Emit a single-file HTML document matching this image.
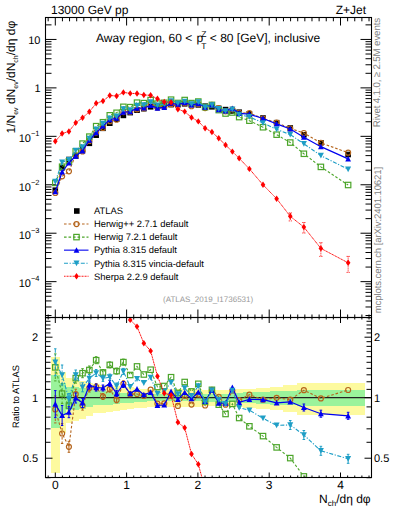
<!DOCTYPE html><html><head><meta charset="utf-8"><style>html,body{margin:0;padding:0;background:#fff;overflow:hidden}svg{display:block}</style></head><body><svg width="393" height="512" viewBox="0 0 393 512" font-family="Liberation Sans, sans-serif" text-rendering="geometricPrecision"><defs><clipPath id="cu"><rect x="45.5" y="17.5" width="326.0" height="300.0"/></clipPath><clipPath id="cr"><rect x="45.5" y="317.5" width="326.0" height="160.0"/></clipPath></defs><g clip-path="url(#cr)" fill="#fdfa9f" shape-rendering="crispEdges"><rect x="51.10" y="357.22" width="8.80" height="115.38"/><rect x="59.90" y="371.83" width="5.62" height="60.83"/><rect x="65.52" y="378.22" width="6.81" height="44.59"/><rect x="72.32" y="379.06" width="6.81" height="42.36"/><rect x="79.13" y="380.70" width="6.81" height="38.13"/><rect x="85.94" y="382.74" width="6.81" height="33.04"/><rect x="92.75" y="384.37" width="6.81" height="29.07"/><rect x="99.56" y="384.74" width="6.81" height="28.18"/><rect x="106.38" y="385.12" width="6.81" height="27.28"/><rect x="113.19" y="385.88" width="6.81" height="25.49"/><rect x="119.99" y="386.65" width="6.81" height="23.71"/><rect x="126.80" y="387.42" width="6.81" height="21.94"/><rect x="133.62" y="388.20" width="6.81" height="20.17"/><rect x="140.43" y="388.59" width="6.81" height="19.28"/><rect x="147.23" y="388.98" width="6.81" height="18.40"/><rect x="154.04" y="388.98" width="6.81" height="18.40"/><rect x="160.85" y="388.98" width="6.81" height="18.40"/><rect x="167.66" y="388.98" width="6.81" height="18.40"/><rect x="174.47" y="388.98" width="6.81" height="18.40"/><rect x="181.28" y="388.98" width="6.81" height="18.40"/><rect x="188.09" y="388.98" width="6.81" height="18.40"/><rect x="194.90" y="388.98" width="6.81" height="18.40"/><rect x="201.71" y="390.18" width="6.81" height="15.76"/><rect x="208.52" y="390.18" width="6.81" height="15.76"/><rect x="215.33" y="390.18" width="6.81" height="15.76"/><rect x="222.14" y="390.18" width="6.81" height="15.76"/><rect x="228.95" y="390.18" width="6.81" height="15.76"/><rect x="235.76" y="389.38" width="6.81" height="17.52"/><rect x="242.57" y="388.75" width="13.62" height="18.93"/><rect x="256.19" y="387.81" width="13.62" height="21.05"/><rect x="269.81" y="387.03" width="13.62" height="22.83"/><rect x="283.44" y="385.35" width="13.62" height="26.74"/><rect x="297.06" y="383.40" width="13.62" height="31.41"/><rect x="310.67" y="383.40" width="20.43" height="31.41"/><rect x="331.11" y="383.40" width="34.05" height="31.41"/></g><g clip-path="url(#cr)" fill="#9af39b" shape-rendering="crispEdges"><rect x="51.10" y="375.47" width="8.80" height="52.13"/><rect x="59.90" y="383.25" width="5.62" height="31.77"/><rect x="65.52" y="387.03" width="6.81" height="22.83"/><rect x="72.32" y="387.03" width="6.81" height="22.83"/><rect x="79.13" y="387.81" width="6.81" height="21.05"/><rect x="85.94" y="389.38" width="6.81" height="17.52"/><rect x="92.75" y="390.58" width="6.81" height="14.88"/><rect x="99.56" y="390.98" width="6.81" height="14.00"/><rect x="106.38" y="391.39" width="6.81" height="13.12"/><rect x="113.19" y="391.79" width="6.81" height="12.24"/><rect x="119.99" y="392.61" width="6.81" height="10.49"/><rect x="126.80" y="393.03" width="6.81" height="9.61"/><rect x="133.62" y="393.44" width="6.81" height="8.74"/><rect x="140.43" y="393.44" width="6.81" height="8.74"/><rect x="147.23" y="394.11" width="6.81" height="7.34"/><rect x="154.04" y="394.11" width="6.81" height="7.34"/><rect x="160.85" y="394.11" width="6.81" height="7.34"/><rect x="167.66" y="394.11" width="6.81" height="7.34"/><rect x="174.47" y="394.11" width="6.81" height="7.34"/><rect x="181.28" y="394.11" width="6.81" height="7.34"/><rect x="188.09" y="394.11" width="6.81" height="7.34"/><rect x="194.90" y="394.11" width="6.81" height="7.34"/><rect x="201.71" y="393.86" width="6.81" height="7.86"/><rect x="208.52" y="393.86" width="6.81" height="7.86"/><rect x="215.33" y="393.86" width="6.81" height="7.86"/><rect x="222.14" y="393.86" width="6.81" height="7.86"/><rect x="228.95" y="393.86" width="6.81" height="7.86"/><rect x="235.76" y="393.03" width="6.81" height="9.61"/><rect x="242.57" y="392.45" width="13.62" height="10.84"/><rect x="256.19" y="392.12" width="13.62" height="11.54"/><rect x="269.81" y="391.39" width="13.62" height="13.12"/><rect x="283.44" y="390.66" width="13.62" height="14.70"/><rect x="297.06" y="390.34" width="13.62" height="15.40"/><rect x="310.67" y="390.34" width="20.43" height="15.40"/><rect x="331.11" y="390.34" width="34.05" height="15.40"/></g><path d="M45.5,397.70H371.5" stroke="#222" stroke-width="1.3"/><path d="M45.5,315.51h6 M371.5,315.51h-6 M45.5,306.98h6 M371.5,306.98h-6 M45.5,300.93h6 M371.5,300.93h-6 M45.5,296.23h6 M371.5,296.23h-6 M45.5,292.40h6 M371.5,292.40h-6 M45.5,289.15h6 M371.5,289.15h-6 M45.5,286.34h6 M371.5,286.34h-6 M45.5,283.87h6 M371.5,283.87h-6 M45.5,281.65h11 M371.5,281.65h-11 M45.5,267.07h6 M371.5,267.07h-6 M45.5,258.54h6 M371.5,258.54h-6 M45.5,252.49h6 M371.5,252.49h-6 M45.5,247.79h6 M371.5,247.79h-6 M45.5,243.96h6 M371.5,243.96h-6 M45.5,240.71h6 M371.5,240.71h-6 M45.5,237.90h6 M371.5,237.90h-6 M45.5,235.43h6 M371.5,235.43h-6 M45.5,233.21h11 M371.5,233.21h-11 M45.5,218.63h6 M371.5,218.63h-6 M45.5,210.10h6 M371.5,210.10h-6 M45.5,204.05h6 M371.5,204.05h-6 M45.5,199.35h6 M371.5,199.35h-6 M45.5,195.52h6 M371.5,195.52h-6 M45.5,192.27h6 M371.5,192.27h-6 M45.5,189.46h6 M371.5,189.46h-6 M45.5,186.99h6 M371.5,186.99h-6 M45.5,184.77h11 M371.5,184.77h-11 M45.5,170.19h6 M371.5,170.19h-6 M45.5,161.66h6 M371.5,161.66h-6 M45.5,155.61h6 M371.5,155.61h-6 M45.5,150.91h6 M371.5,150.91h-6 M45.5,147.08h6 M371.5,147.08h-6 M45.5,143.83h6 M371.5,143.83h-6 M45.5,141.02h6 M371.5,141.02h-6 M45.5,138.55h6 M371.5,138.55h-6 M45.5,136.33h11 M371.5,136.33h-11 M45.5,121.75h6 M371.5,121.75h-6 M45.5,113.22h6 M371.5,113.22h-6 M45.5,107.17h6 M371.5,107.17h-6 M45.5,102.47h6 M371.5,102.47h-6 M45.5,98.64h6 M371.5,98.64h-6 M45.5,95.39h6 M371.5,95.39h-6 M45.5,92.58h6 M371.5,92.58h-6 M45.5,90.11h6 M371.5,90.11h-6 M45.5,87.89h11 M371.5,87.89h-11 M45.5,73.31h6 M371.5,73.31h-6 M45.5,64.78h6 M371.5,64.78h-6 M45.5,58.73h6 M371.5,58.73h-6 M45.5,54.03h6 M371.5,54.03h-6 M45.5,50.20h6 M371.5,50.20h-6 M45.5,46.95h6 M371.5,46.95h-6 M45.5,44.14h6 M371.5,44.14h-6 M45.5,41.67h6 M371.5,41.67h-6 M45.5,39.45h11 M371.5,39.45h-11 M45.5,24.87h6 M371.5,24.87h-6 M48.17,17.5v3.8 M48.17,317.5v-3 M48.17,317.5v2 M48.17,477.5v-2 M55.30,17.5v8 M55.30,317.5v-8 M55.30,317.5v5.5 M55.30,477.5v-5 M62.43,17.5v3.8 M62.43,317.5v-3 M62.43,317.5v2 M62.43,477.5v-2 M69.56,17.5v3.8 M69.56,317.5v-3 M69.56,317.5v2 M69.56,477.5v-2 M76.69,17.5v3.8 M76.69,317.5v-3 M76.69,317.5v2 M76.69,477.5v-2 M83.82,17.5v3.8 M83.82,317.5v-3 M83.82,317.5v2 M83.82,477.5v-2 M90.95,17.5v3.8 M90.95,317.5v-3 M90.95,317.5v2 M90.95,477.5v-2 M98.08,17.5v3.8 M98.08,317.5v-3 M98.08,317.5v2 M98.08,477.5v-2 M105.21,17.5v3.8 M105.21,317.5v-3 M105.21,317.5v2 M105.21,477.5v-2 M112.34,17.5v3.8 M112.34,317.5v-3 M112.34,317.5v2 M112.34,477.5v-2 M119.47,17.5v3.8 M119.47,317.5v-3 M119.47,317.5v2 M119.47,477.5v-2 M126.60,17.5v8 M126.60,317.5v-8 M126.60,317.5v5.5 M126.60,477.5v-5 M133.73,17.5v3.8 M133.73,317.5v-3 M133.73,317.5v2 M133.73,477.5v-2 M140.86,17.5v3.8 M140.86,317.5v-3 M140.86,317.5v2 M140.86,477.5v-2 M147.99,17.5v3.8 M147.99,317.5v-3 M147.99,317.5v2 M147.99,477.5v-2 M155.12,17.5v3.8 M155.12,317.5v-3 M155.12,317.5v2 M155.12,477.5v-2 M162.25,17.5v3.8 M162.25,317.5v-3 M162.25,317.5v2 M162.25,477.5v-2 M169.38,17.5v3.8 M169.38,317.5v-3 M169.38,317.5v2 M169.38,477.5v-2 M176.51,17.5v3.8 M176.51,317.5v-3 M176.51,317.5v2 M176.51,477.5v-2 M183.64,17.5v3.8 M183.64,317.5v-3 M183.64,317.5v2 M183.64,477.5v-2 M190.77,17.5v3.8 M190.77,317.5v-3 M190.77,317.5v2 M190.77,477.5v-2 M197.90,17.5v8 M197.90,317.5v-8 M197.90,317.5v5.5 M197.90,477.5v-5 M205.03,17.5v3.8 M205.03,317.5v-3 M205.03,317.5v2 M205.03,477.5v-2 M212.16,17.5v3.8 M212.16,317.5v-3 M212.16,317.5v2 M212.16,477.5v-2 M219.29,17.5v3.8 M219.29,317.5v-3 M219.29,317.5v2 M219.29,477.5v-2 M226.42,17.5v3.8 M226.42,317.5v-3 M226.42,317.5v2 M226.42,477.5v-2 M233.55,17.5v3.8 M233.55,317.5v-3 M233.55,317.5v2 M233.55,477.5v-2 M240.68,17.5v3.8 M240.68,317.5v-3 M240.68,317.5v2 M240.68,477.5v-2 M247.81,17.5v3.8 M247.81,317.5v-3 M247.81,317.5v2 M247.81,477.5v-2 M254.94,17.5v3.8 M254.94,317.5v-3 M254.94,317.5v2 M254.94,477.5v-2 M262.07,17.5v3.8 M262.07,317.5v-3 M262.07,317.5v2 M262.07,477.5v-2 M269.20,17.5v8 M269.20,317.5v-8 M269.20,317.5v5.5 M269.20,477.5v-5 M276.33,17.5v3.8 M276.33,317.5v-3 M276.33,317.5v2 M276.33,477.5v-2 M283.46,17.5v3.8 M283.46,317.5v-3 M283.46,317.5v2 M283.46,477.5v-2 M290.59,17.5v3.8 M290.59,317.5v-3 M290.59,317.5v2 M290.59,477.5v-2 M297.72,17.5v3.8 M297.72,317.5v-3 M297.72,317.5v2 M297.72,477.5v-2 M304.85,17.5v3.8 M304.85,317.5v-3 M304.85,317.5v2 M304.85,477.5v-2 M311.98,17.5v3.8 M311.98,317.5v-3 M311.98,317.5v2 M311.98,477.5v-2 M319.11,17.5v3.8 M319.11,317.5v-3 M319.11,317.5v2 M319.11,477.5v-2 M326.24,17.5v3.8 M326.24,317.5v-3 M326.24,317.5v2 M326.24,477.5v-2 M333.37,17.5v3.8 M333.37,317.5v-3 M333.37,317.5v2 M333.37,477.5v-2 M340.50,17.5v8 M340.50,317.5v-8 M340.50,317.5v5.5 M340.50,477.5v-5 M347.63,17.5v3.8 M347.63,317.5v-3 M347.63,317.5v2 M347.63,477.5v-2 M354.76,17.5v3.8 M354.76,317.5v-3 M354.76,317.5v2 M354.76,477.5v-2 M361.89,17.5v3.8 M361.89,317.5v-3 M361.89,317.5v2 M361.89,477.5v-2 M369.02,17.5v3.8 M369.02,317.5v-3 M369.02,317.5v2 M369.02,477.5v-2 M45.5,477.69h5 M371.5,477.69h-5 M45.5,458.21h7 M371.5,458.21h-7 M45.5,442.29h5 M371.5,442.29h-5 M45.5,428.84h5 M371.5,428.84h-5 M45.5,417.18h5 M371.5,417.18h-5 M45.5,406.90h5 M371.5,406.90h-5 M45.5,397.70h7 M371.5,397.70h-7 M45.5,389.38h5 M371.5,389.38h-5 M45.5,381.78h5 M371.5,381.78h-5 M45.5,374.80h5 M371.5,374.80h-5 M45.5,368.33h5 M371.5,368.33h-5 M45.5,362.31h5 M371.5,362.31h-5 M45.5,356.67h5 M371.5,356.67h-5 M45.5,351.38h5 M371.5,351.38h-5 M45.5,346.39h5 M371.5,346.39h-5 M45.5,341.67h5 M371.5,341.67h-5 M45.5,337.19h7 M371.5,337.19h-7 M45.5,332.93h5 M371.5,332.93h-5 M45.5,328.87h5 M371.5,328.87h-5 M45.5,324.99h5 M371.5,324.99h-5 M45.5,321.28h5 M371.5,321.28h-5 M45.5,317.71h5 M371.5,317.71h-5" stroke="#000" stroke-width="1" fill="none"/><g clip-path="url(#cu)"><g><rect x="52.50" y="187.40" width="5.6" height="5.6" fill="#000"/><rect x="59.31" y="164.90" width="5.6" height="5.6" fill="#000"/><rect x="66.12" y="156.70" width="5.6" height="5.6" fill="#000"/><rect x="72.93" y="153.20" width="5.6" height="5.6" fill="#000"/><rect x="79.74" y="146.70" width="5.6" height="5.6" fill="#000"/><rect x="86.55" y="140.50" width="5.6" height="5.6" fill="#000"/><rect x="93.36" y="132.40" width="5.6" height="5.6" fill="#000"/><rect x="100.17" y="125.50" width="5.6" height="5.6" fill="#000"/><rect x="106.98" y="120.40" width="5.6" height="5.6" fill="#000"/><rect x="113.79" y="116.40" width="5.6" height="5.6" fill="#000"/><rect x="120.60" y="112.60" width="5.6" height="5.6" fill="#000"/><rect x="127.41" y="109.80" width="5.6" height="5.6" fill="#000"/><rect x="134.22" y="107.40" width="5.6" height="5.6" fill="#000"/><rect x="141.03" y="105.90" width="5.6" height="5.6" fill="#000"/><rect x="147.84" y="104.00" width="5.6" height="5.6" fill="#000"/><rect x="154.65" y="103.40" width="5.6" height="5.6" fill="#000"/><rect x="161.46" y="102.80" width="5.6" height="5.6" fill="#000"/><rect x="168.27" y="101.80" width="5.6" height="5.6" fill="#000"/><rect x="175.08" y="101.30" width="5.6" height="5.6" fill="#000"/><rect x="181.89" y="101.00" width="5.6" height="5.6" fill="#000"/><rect x="188.70" y="101.80" width="5.6" height="5.6" fill="#000"/><rect x="195.51" y="102.10" width="5.6" height="5.6" fill="#000"/><rect x="202.32" y="103.40" width="5.6" height="5.6" fill="#000"/><rect x="209.13" y="104.00" width="5.6" height="5.6" fill="#000"/><rect x="215.94" y="105.60" width="5.6" height="5.6" fill="#000"/><rect x="222.75" y="106.80" width="5.6" height="5.6" fill="#000"/><rect x="229.56" y="108.20" width="5.6" height="5.6" fill="#000"/><rect x="236.37" y="109.40" width="5.6" height="5.6" fill="#000"/><rect x="246.58" y="111.00" width="5.6" height="5.6" fill="#000"/><rect x="260.20" y="115.20" width="5.6" height="5.6" fill="#000"/><rect x="273.82" y="119.90" width="5.6" height="5.6" fill="#000"/><rect x="287.44" y="125.20" width="5.6" height="5.6" fill="#000"/><rect x="301.06" y="132.00" width="5.6" height="5.6" fill="#000"/><rect x="318.09" y="140.00" width="5.6" height="5.6" fill="#000"/><rect x="345.33" y="151.70" width="5.6" height="5.6" fill="#000"/></g><path d="M55.30,193.02 L62.11,176.33 L68.92,171.33 L75.73,155.16 L82.54,151.40 L89.35,140.96 L96.16,132.62 L102.97,128.01 L109.78,121.13 L116.59,119.73 L123.40,112.05 L130.21,111.76 L137.02,109.31 L143.83,108.29 L150.64,104.87 L157.45,107.65 L164.26,106.97 L171.07,104.19 L177.88,106.08 L184.69,103.34 L191.50,106.26 L198.31,104.13 L205.12,108.08 L211.93,104.90 L218.74,108.21 L225.55,111.29 L232.36,109.29 L239.17,112.75 L249.38,113.08 L263.00,118.48 L276.62,122.72 L290.25,128.48 L303.87,132.99 L320.89,142.97 L348.13,152.64" fill="none" stroke="#b5651d" stroke-width="1.1" stroke-dasharray="2.6 1.9"/><g><circle cx="55.30" cy="193.02" r="2.5" fill="none" stroke="#b5651d" stroke-width="1.2"/><circle cx="62.11" cy="176.33" r="2.5" fill="none" stroke="#b5651d" stroke-width="1.2"/><circle cx="68.92" cy="171.33" r="2.5" fill="none" stroke="#b5651d" stroke-width="1.2"/><circle cx="75.73" cy="155.16" r="2.5" fill="none" stroke="#b5651d" stroke-width="1.2"/><circle cx="82.54" cy="151.40" r="2.5" fill="none" stroke="#b5651d" stroke-width="1.2"/><circle cx="89.35" cy="140.96" r="2.5" fill="none" stroke="#b5651d" stroke-width="1.2"/><circle cx="96.16" cy="132.62" r="2.5" fill="none" stroke="#b5651d" stroke-width="1.2"/><circle cx="102.97" cy="128.01" r="2.5" fill="none" stroke="#b5651d" stroke-width="1.2"/><circle cx="109.78" cy="121.13" r="2.5" fill="none" stroke="#b5651d" stroke-width="1.2"/><circle cx="116.59" cy="119.73" r="2.5" fill="none" stroke="#b5651d" stroke-width="1.2"/><circle cx="123.40" cy="112.05" r="2.5" fill="none" stroke="#b5651d" stroke-width="1.2"/><circle cx="130.21" cy="111.76" r="2.5" fill="none" stroke="#b5651d" stroke-width="1.2"/><circle cx="137.02" cy="109.31" r="2.5" fill="none" stroke="#b5651d" stroke-width="1.2"/><circle cx="143.83" cy="108.29" r="2.5" fill="none" stroke="#b5651d" stroke-width="1.2"/><circle cx="150.64" cy="104.87" r="2.5" fill="none" stroke="#b5651d" stroke-width="1.2"/><circle cx="157.45" cy="107.65" r="2.5" fill="none" stroke="#b5651d" stroke-width="1.2"/><circle cx="164.26" cy="106.97" r="2.5" fill="none" stroke="#b5651d" stroke-width="1.2"/><circle cx="171.07" cy="104.19" r="2.5" fill="none" stroke="#b5651d" stroke-width="1.2"/><circle cx="177.88" cy="106.08" r="2.5" fill="none" stroke="#b5651d" stroke-width="1.2"/><circle cx="184.69" cy="103.34" r="2.5" fill="none" stroke="#b5651d" stroke-width="1.2"/><circle cx="191.50" cy="106.26" r="2.5" fill="none" stroke="#b5651d" stroke-width="1.2"/><circle cx="198.31" cy="104.13" r="2.5" fill="none" stroke="#b5651d" stroke-width="1.2"/><circle cx="205.12" cy="108.08" r="2.5" fill="none" stroke="#b5651d" stroke-width="1.2"/><circle cx="211.93" cy="104.90" r="2.5" fill="none" stroke="#b5651d" stroke-width="1.2"/><circle cx="218.74" cy="108.21" r="2.5" fill="none" stroke="#b5651d" stroke-width="1.2"/><circle cx="225.55" cy="111.29" r="2.5" fill="none" stroke="#b5651d" stroke-width="1.2"/><circle cx="232.36" cy="109.29" r="2.5" fill="none" stroke="#b5651d" stroke-width="1.2"/><circle cx="239.17" cy="112.75" r="2.5" fill="none" stroke="#b5651d" stroke-width="1.2"/><circle cx="249.38" cy="113.08" r="2.5" fill="none" stroke="#b5651d" stroke-width="1.2"/><circle cx="263.00" cy="118.48" r="2.5" fill="none" stroke="#b5651d" stroke-width="1.2"/><circle cx="276.62" cy="122.72" r="2.5" fill="none" stroke="#b5651d" stroke-width="1.2"/><circle cx="290.25" cy="128.48" r="2.5" fill="none" stroke="#b5651d" stroke-width="1.2"/><circle cx="303.87" cy="132.99" r="2.5" fill="none" stroke="#b5651d" stroke-width="1.2"/><circle cx="320.89" cy="142.97" r="2.5" fill="none" stroke="#b5651d" stroke-width="1.2"/><circle cx="348.13" cy="152.64" r="2.5" fill="none" stroke="#b5651d" stroke-width="1.2"/></g><path d="M55.30,182.90 L62.11,166.71 L68.92,161.40 L75.73,151.28 L82.54,143.60 L89.35,136.62 L96.16,126.16 L102.97,122.23 L109.78,115.30 L116.59,112.79 L123.40,106.82 L130.21,107.13 L137.02,102.66 L143.83,103.11 L150.64,100.05 L157.45,103.62 L164.26,102.78 L171.07,99.66 L177.88,102.97 L184.69,100.02 L191.50,103.08 L198.31,101.55 L205.12,107.14 L211.93,104.90 L218.74,110.09 L225.55,113.53 L232.36,112.49 L239.17,117.09 L249.38,120.69 L263.00,127.25 L276.62,134.68 L290.25,142.56 L303.87,153.77 L320.89,166.90 L348.13,185.00" fill="none" stroke="#4ca52a" stroke-width="1.1" stroke-dasharray="2.6 1.9"/><g><rect x="52.60" y="180.20" width="5.4" height="5.4" fill="none" stroke="#4ca52a" stroke-width="1.2"/><rect x="59.41" y="164.01" width="5.4" height="5.4" fill="none" stroke="#4ca52a" stroke-width="1.2"/><rect x="66.22" y="158.70" width="5.4" height="5.4" fill="none" stroke="#4ca52a" stroke-width="1.2"/><rect x="73.03" y="148.58" width="5.4" height="5.4" fill="none" stroke="#4ca52a" stroke-width="1.2"/><rect x="79.84" y="140.90" width="5.4" height="5.4" fill="none" stroke="#4ca52a" stroke-width="1.2"/><rect x="86.65" y="133.92" width="5.4" height="5.4" fill="none" stroke="#4ca52a" stroke-width="1.2"/><rect x="93.46" y="123.46" width="5.4" height="5.4" fill="none" stroke="#4ca52a" stroke-width="1.2"/><rect x="100.27" y="119.53" width="5.4" height="5.4" fill="none" stroke="#4ca52a" stroke-width="1.2"/><rect x="107.08" y="112.60" width="5.4" height="5.4" fill="none" stroke="#4ca52a" stroke-width="1.2"/><rect x="113.89" y="110.09" width="5.4" height="5.4" fill="none" stroke="#4ca52a" stroke-width="1.2"/><rect x="120.70" y="104.12" width="5.4" height="5.4" fill="none" stroke="#4ca52a" stroke-width="1.2"/><rect x="127.51" y="104.43" width="5.4" height="5.4" fill="none" stroke="#4ca52a" stroke-width="1.2"/><rect x="134.32" y="99.96" width="5.4" height="5.4" fill="none" stroke="#4ca52a" stroke-width="1.2"/><rect x="141.13" y="100.41" width="5.4" height="5.4" fill="none" stroke="#4ca52a" stroke-width="1.2"/><rect x="147.94" y="97.35" width="5.4" height="5.4" fill="none" stroke="#4ca52a" stroke-width="1.2"/><rect x="154.75" y="100.92" width="5.4" height="5.4" fill="none" stroke="#4ca52a" stroke-width="1.2"/><rect x="161.56" y="100.08" width="5.4" height="5.4" fill="none" stroke="#4ca52a" stroke-width="1.2"/><rect x="168.37" y="96.96" width="5.4" height="5.4" fill="none" stroke="#4ca52a" stroke-width="1.2"/><rect x="175.18" y="100.27" width="5.4" height="5.4" fill="none" stroke="#4ca52a" stroke-width="1.2"/><rect x="181.99" y="97.32" width="5.4" height="5.4" fill="none" stroke="#4ca52a" stroke-width="1.2"/><rect x="188.80" y="100.38" width="5.4" height="5.4" fill="none" stroke="#4ca52a" stroke-width="1.2"/><rect x="195.61" y="98.85" width="5.4" height="5.4" fill="none" stroke="#4ca52a" stroke-width="1.2"/><rect x="202.42" y="104.44" width="5.4" height="5.4" fill="none" stroke="#4ca52a" stroke-width="1.2"/><rect x="209.23" y="102.20" width="5.4" height="5.4" fill="none" stroke="#4ca52a" stroke-width="1.2"/><rect x="216.04" y="107.39" width="5.4" height="5.4" fill="none" stroke="#4ca52a" stroke-width="1.2"/><rect x="222.85" y="110.83" width="5.4" height="5.4" fill="none" stroke="#4ca52a" stroke-width="1.2"/><rect x="229.66" y="109.79" width="5.4" height="5.4" fill="none" stroke="#4ca52a" stroke-width="1.2"/><rect x="236.47" y="114.39" width="5.4" height="5.4" fill="none" stroke="#4ca52a" stroke-width="1.2"/><rect x="246.69" y="117.99" width="5.4" height="5.4" fill="none" stroke="#4ca52a" stroke-width="1.2"/><rect x="260.31" y="124.55" width="5.4" height="5.4" fill="none" stroke="#4ca52a" stroke-width="1.2"/><rect x="273.93" y="131.98" width="5.4" height="5.4" fill="none" stroke="#4ca52a" stroke-width="1.2"/><rect x="287.55" y="139.86" width="5.4" height="5.4" fill="none" stroke="#4ca52a" stroke-width="1.2"/><rect x="301.17" y="151.07" width="5.4" height="5.4" fill="none" stroke="#4ca52a" stroke-width="1.2"/><rect x="318.19" y="164.20" width="5.4" height="5.4" fill="none" stroke="#4ca52a" stroke-width="1.2"/><rect x="345.43" y="182.30" width="5.4" height="5.4" fill="none" stroke="#4ca52a" stroke-width="1.2"/></g><path d="M55.30,191.74 L62.11,171.99 L68.92,162.99 L75.73,156.07 L82.54,150.78 L89.35,140.24 L96.16,132.77 L102.97,125.96 L109.78,119.75 L116.59,118.21 L123.40,112.22 L130.21,111.61 L137.02,108.13 L143.83,107.98 L150.64,105.50 L157.45,108.06 L164.26,107.36 L171.07,103.11 L177.88,104.51 L184.69,102.55 L191.50,104.82 L198.31,103.57 L205.12,107.07 L211.93,105.02 L218.74,109.70 L225.55,110.90 L232.36,108.54 L239.17,113.31 L249.38,114.19 L263.00,118.48 L276.62,123.93 L290.25,128.99 L303.87,137.16 L320.89,146.66 L348.13,158.86" fill="none" stroke="#0000f0" stroke-width="1.2"/><g><path d="M52.40,194.34L55.30,188.74L58.20,194.34Z" fill="#0000f0"/><path d="M59.21,174.59L62.11,168.99L65.01,174.59Z" fill="#0000f0"/><path d="M66.02,165.59L68.92,159.99L71.82,165.59Z" fill="#0000f0"/><path d="M72.83,158.67L75.73,153.07L78.63,158.67Z" fill="#0000f0"/><path d="M79.64,153.38L82.54,147.78L85.44,153.38Z" fill="#0000f0"/><path d="M86.45,142.84L89.35,137.24L92.25,142.84Z" fill="#0000f0"/><path d="M93.26,135.37L96.16,129.77L99.06,135.37Z" fill="#0000f0"/><path d="M100.07,128.56L102.97,122.96L105.87,128.56Z" fill="#0000f0"/><path d="M106.88,122.35L109.78,116.75L112.68,122.35Z" fill="#0000f0"/><path d="M113.69,120.81L116.59,115.21L119.49,120.81Z" fill="#0000f0"/><path d="M120.50,114.82L123.40,109.22L126.30,114.82Z" fill="#0000f0"/><path d="M127.31,114.21L130.21,108.61L133.11,114.21Z" fill="#0000f0"/><path d="M134.12,110.73L137.02,105.13L139.92,110.73Z" fill="#0000f0"/><path d="M140.93,110.58L143.83,104.98L146.73,110.58Z" fill="#0000f0"/><path d="M147.74,108.10L150.64,102.50L153.54,108.10Z" fill="#0000f0"/><path d="M154.55,110.66L157.45,105.06L160.35,110.66Z" fill="#0000f0"/><path d="M161.36,109.96L164.26,104.36L167.16,109.96Z" fill="#0000f0"/><path d="M168.17,105.71L171.07,100.11L173.97,105.71Z" fill="#0000f0"/><path d="M174.98,107.11L177.88,101.51L180.78,107.11Z" fill="#0000f0"/><path d="M181.79,105.15L184.69,99.55L187.59,105.15Z" fill="#0000f0"/><path d="M188.60,107.42L191.50,101.82L194.40,107.42Z" fill="#0000f0"/><path d="M195.41,106.17L198.31,100.57L201.21,106.17Z" fill="#0000f0"/><path d="M202.22,109.67L205.12,104.07L208.02,109.67Z" fill="#0000f0"/><path d="M209.03,107.62L211.93,102.02L214.83,107.62Z" fill="#0000f0"/><path d="M215.84,112.30L218.74,106.70L221.64,112.30Z" fill="#0000f0"/><path d="M222.65,113.50L225.55,107.90L228.45,113.50Z" fill="#0000f0"/><path d="M229.46,111.14L232.36,105.54L235.26,111.14Z" fill="#0000f0"/><path d="M236.27,115.91L239.17,110.31L242.07,115.91Z" fill="#0000f0"/><path d="M246.48,116.79L249.38,111.19L252.28,116.79Z" fill="#0000f0"/><path d="M260.11,121.08L263.00,115.48L265.90,121.08Z" fill="#0000f0"/><path d="M273.73,126.53L276.62,120.93L279.52,126.53Z" fill="#0000f0"/><path d="M287.35,131.59L290.25,125.99L293.14,131.59Z" fill="#0000f0"/><path d="M300.97,139.76L303.87,134.16L306.76,139.76Z" fill="#0000f0"/><path d="M317.99,149.26L320.89,143.66L323.79,149.26Z" fill="#0000f0"/><path d="M345.23,161.46L348.13,155.86L351.03,161.46Z" fill="#0000f0"/></g><path d="M55.30,181.67 L62.11,162.23 L68.92,159.81 L75.73,150.53 L82.54,146.99 L89.35,138.67 L96.16,129.25 L102.97,123.65 L109.78,118.24 L116.59,116.38 L123.40,109.06 L130.21,109.97 L137.02,105.67 L143.83,105.13 L150.64,101.93 L157.45,105.19 L164.26,104.03 L171.07,100.96 L177.88,103.21 L184.69,101.49 L191.50,104.12 L198.31,102.08 L205.12,107.31 L211.93,105.02 L218.74,108.88 L225.55,111.09 L232.36,109.29 L239.17,114.63 L249.38,116.81 L263.00,122.96 L276.62,129.35 L290.25,134.58 L303.87,143.79 L320.89,155.60 L348.13,169.22" fill="none" stroke="#1e9ec6" stroke-width="1.1" stroke-dasharray="4 1.6 1.2 1.6"/><g><path d="M52.30,178.87L55.30,184.67L58.30,178.87Z" fill="#1e9ec6"/><path d="M59.11,159.43L62.11,165.23L65.11,159.43Z" fill="#1e9ec6"/><path d="M65.92,157.01L68.92,162.81L71.92,157.01Z" fill="#1e9ec6"/><path d="M72.73,147.73L75.73,153.53L78.73,147.73Z" fill="#1e9ec6"/><path d="M79.54,144.19L82.54,149.99L85.54,144.19Z" fill="#1e9ec6"/><path d="M86.35,135.87L89.35,141.67L92.35,135.87Z" fill="#1e9ec6"/><path d="M93.16,126.45L96.16,132.25L99.16,126.45Z" fill="#1e9ec6"/><path d="M99.97,120.85L102.97,126.65L105.97,120.85Z" fill="#1e9ec6"/><path d="M106.78,115.44L109.78,121.24L112.78,115.44Z" fill="#1e9ec6"/><path d="M113.59,113.58L116.59,119.38L119.59,113.58Z" fill="#1e9ec6"/><path d="M120.40,106.26L123.40,112.06L126.40,106.26Z" fill="#1e9ec6"/><path d="M127.21,107.17L130.21,112.97L133.21,107.17Z" fill="#1e9ec6"/><path d="M134.02,102.87L137.02,108.67L140.02,102.87Z" fill="#1e9ec6"/><path d="M140.83,102.33L143.83,108.13L146.83,102.33Z" fill="#1e9ec6"/><path d="M147.64,99.13L150.64,104.93L153.64,99.13Z" fill="#1e9ec6"/><path d="M154.45,102.39L157.45,108.19L160.45,102.39Z" fill="#1e9ec6"/><path d="M161.26,101.23L164.26,107.03L167.26,101.23Z" fill="#1e9ec6"/><path d="M168.07,98.16L171.07,103.96L174.07,98.16Z" fill="#1e9ec6"/><path d="M174.88,100.41L177.88,106.21L180.88,100.41Z" fill="#1e9ec6"/><path d="M181.69,98.69L184.69,104.49L187.69,98.69Z" fill="#1e9ec6"/><path d="M188.50,101.32L191.50,107.12L194.50,101.32Z" fill="#1e9ec6"/><path d="M195.31,99.28L198.31,105.08L201.31,99.28Z" fill="#1e9ec6"/><path d="M202.12,104.51L205.12,110.31L208.12,104.51Z" fill="#1e9ec6"/><path d="M208.93,102.22L211.93,108.02L214.93,102.22Z" fill="#1e9ec6"/><path d="M215.74,106.08L218.74,111.88L221.74,106.08Z" fill="#1e9ec6"/><path d="M222.55,108.29L225.55,114.09L228.55,108.29Z" fill="#1e9ec6"/><path d="M229.36,106.49L232.36,112.29L235.36,106.49Z" fill="#1e9ec6"/><path d="M236.17,111.83L239.17,117.63L242.17,111.83Z" fill="#1e9ec6"/><path d="M246.38,114.01L249.38,119.81L252.38,114.01Z" fill="#1e9ec6"/><path d="M260.00,120.16L263.00,125.96L266.00,120.16Z" fill="#1e9ec6"/><path d="M273.62,126.55L276.62,132.35L279.62,126.55Z" fill="#1e9ec6"/><path d="M287.25,131.78L290.25,137.58L293.25,131.78Z" fill="#1e9ec6"/><path d="M300.87,140.99L303.87,146.79L306.87,140.99Z" fill="#1e9ec6"/><path d="M317.89,152.80L320.89,158.60L323.89,152.80Z" fill="#1e9ec6"/><path d="M345.13,166.42L348.13,172.22L351.13,166.42Z" fill="#1e9ec6"/></g><path d="M55.30,141.30 L62.11,133.50 L68.92,131.50 L75.73,122.70 L82.54,117.80 L89.35,111.80 L96.16,103.30 L102.97,101.00 L109.78,95.50 L116.59,96.00 L123.40,92.40 L130.21,93.40 L137.02,93.50 L143.83,95.00 L150.64,95.30 L157.45,98.80 L164.26,102.00 L171.07,102.20 L177.88,109.20 L184.69,111.60 L191.50,117.50 L198.31,121.40 L205.12,128.20 L211.93,132.00 L218.74,138.30 L225.55,145.00 L232.36,151.60 L239.17,158.30 L249.38,168.90 L263.00,184.80 L276.62,198.70 L290.25,216.30 L303.87,227.10 L320.89,248.40 L348.13,262.80" fill="none" stroke="#ff0000" stroke-width="1.0" stroke-dasharray="1.2 0.5"/><g><path d="M53.00,141.30L55.30,138.10L57.60,141.30L55.30,144.50Z" fill="#ff0000"/><path d="M59.81,133.50L62.11,130.30L64.41,133.50L62.11,136.70Z" fill="#ff0000"/><path d="M66.62,131.50L68.92,128.30L71.22,131.50L68.92,134.70Z" fill="#ff0000"/><path d="M73.43,122.70L75.73,119.50L78.03,122.70L75.73,125.90Z" fill="#ff0000"/><path d="M80.24,117.80L82.54,114.60L84.84,117.80L82.54,121.00Z" fill="#ff0000"/><path d="M87.05,111.80L89.35,108.60L91.65,111.80L89.35,115.00Z" fill="#ff0000"/><path d="M93.86,103.30L96.16,100.10L98.46,103.30L96.16,106.50Z" fill="#ff0000"/><path d="M100.67,101.00L102.97,97.80L105.27,101.00L102.97,104.20Z" fill="#ff0000"/><path d="M107.48,95.50L109.78,92.30L112.08,95.50L109.78,98.70Z" fill="#ff0000"/><path d="M114.29,96.00L116.59,92.80L118.89,96.00L116.59,99.20Z" fill="#ff0000"/><path d="M121.10,92.40L123.40,89.20L125.70,92.40L123.40,95.60Z" fill="#ff0000"/><path d="M127.91,93.40L130.21,90.20L132.51,93.40L130.21,96.60Z" fill="#ff0000"/><path d="M134.72,93.50L137.02,90.30L139.32,93.50L137.02,96.70Z" fill="#ff0000"/><path d="M141.53,95.00L143.83,91.80L146.13,95.00L143.83,98.20Z" fill="#ff0000"/><path d="M148.34,95.30L150.64,92.10L152.94,95.30L150.64,98.50Z" fill="#ff0000"/><path d="M155.15,98.80L157.45,95.60L159.75,98.80L157.45,102.00Z" fill="#ff0000"/><path d="M161.96,102.00L164.26,98.80L166.56,102.00L164.26,105.20Z" fill="#ff0000"/><path d="M168.77,102.20L171.07,99.00L173.37,102.20L171.07,105.40Z" fill="#ff0000"/><path d="M175.58,109.20L177.88,106.00L180.18,109.20L177.88,112.40Z" fill="#ff0000"/><path d="M182.39,111.60L184.69,108.40L186.99,111.60L184.69,114.80Z" fill="#ff0000"/><path d="M189.20,117.50L191.50,114.30L193.80,117.50L191.50,120.70Z" fill="#ff0000"/><path d="M196.01,121.40L198.31,118.20L200.61,121.40L198.31,124.60Z" fill="#ff0000"/><path d="M202.82,128.20L205.12,125.00L207.42,128.20L205.12,131.40Z" fill="#ff0000"/><path d="M209.63,132.00L211.93,128.80L214.23,132.00L211.93,135.20Z" fill="#ff0000"/><path d="M216.44,138.30L218.74,135.10L221.04,138.30L218.74,141.50Z" fill="#ff0000"/><path d="M223.25,145.00L225.55,141.80L227.85,145.00L225.55,148.20Z" fill="#ff0000"/><path d="M230.06,151.60L232.36,148.40L234.66,151.60L232.36,154.80Z" fill="#ff0000"/><path d="M236.87,158.30L239.17,155.10L241.47,158.30L239.17,161.50Z" fill="#ff0000"/><path d="M247.08,168.90L249.38,165.70L251.69,168.90L249.38,172.10Z" fill="#ff0000"/><path d="M260.70,184.80L263.00,181.60L265.31,184.80L263.00,188.00Z" fill="#ff0000"/><path d="M274.32,198.70L276.62,195.50L278.93,198.70L276.62,201.90Z" fill="#ff0000"/><path d="M287.94,216.30L290.25,213.10L292.55,216.30L290.25,219.50Z" fill="#ff0000"/><path d="M301.56,227.10L303.87,223.90L306.17,227.10L303.87,230.30Z" fill="#ff0000"/><path d="M318.59,248.40L320.89,245.20L323.19,248.40L320.89,251.60Z" fill="#ff0000"/><path d="M345.83,262.80L348.13,259.60L350.43,262.80L348.13,266.00Z" fill="#ff0000"/></g><path d="M290.25,212.9V220.9M288.75,212.9h3M288.75,220.9h3M303.87,222.5V233M302.37,222.5h3M302.37,233h3M320.89,242.7V256.4M319.39,242.7h3M319.39,256.4h3M348.13,256.4V272.4M346.63,256.4h3M346.63,272.4h3" stroke="#ff0000" stroke-width="1" stroke-dasharray="1 1"/></g><g clip-path="url(#cr)"><path d="M55.30,409.40 L62.11,433.50 L68.92,446.80 L75.73,394.20 L82.54,405.60 L89.35,388.00 L96.16,387.00 L102.97,396.50 L109.78,389.10 L116.59,399.90 L123.40,383.80 L130.21,394.20 L137.02,394.00 L143.83,396.00 L150.64,389.70 L157.45,403.70 L164.26,403.40 L171.07,396.00 L177.88,405.90 L184.69,395.80 L191.50,404.60 L198.31,394.50 L205.12,405.50 L211.93,389.80 L218.74,396.90 L225.55,404.70 L232.36,390.60 L239.17,400.00 L249.38,394.70 L263.00,399.70 L276.62,397.80 L290.25,399.70 L303.87,390.20 L320.89,398.40 L348.13,390.00" fill="none" stroke="#b5651d" stroke-width="1.1" stroke-dasharray="2.6 1.9"/><path d="M55.30,395.90V422.90M54.10,395.90h2.4M54.10,422.90h2.4M62.11,423.50V443.50M60.91,423.50h2.4M60.91,443.50h2.4" stroke="#b5651d" stroke-width="1" stroke-dasharray="2.6 1.9"/><path d="M68.92,441.30V452.30M67.62,441.30h2.6M67.62,452.30h2.6M75.73,389.20V399.20M74.43,389.20h2.6M74.43,399.20h2.6M82.54,401.10V410.10M81.24,401.10h2.6M81.24,410.10h2.6M89.35,384.00V392.00M88.05,384.00h2.6M88.05,392.00h2.6M96.16,383.50V390.50M94.86,383.50h2.6M94.86,390.50h2.6M102.97,393.50V399.50M101.67,393.50h2.6M101.67,399.50h2.6M109.78,386.10V392.10M108.48,386.10h2.6M108.48,392.10h2.6M116.59,396.90V402.90M115.29,396.90h2.6M115.29,402.90h2.6M123.40,380.80V386.80M122.10,380.80h2.6M122.10,386.80h2.6" stroke="#b5651d" stroke-width="1"/><g><circle cx="55.30" cy="409.40" r="2.5" fill="none" stroke="#b5651d" stroke-width="1.2"/><circle cx="62.11" cy="433.50" r="2.5" fill="none" stroke="#b5651d" stroke-width="1.2"/><circle cx="68.92" cy="446.80" r="2.5" fill="none" stroke="#b5651d" stroke-width="1.2"/><circle cx="75.73" cy="394.20" r="2.5" fill="none" stroke="#b5651d" stroke-width="1.2"/><circle cx="82.54" cy="405.60" r="2.5" fill="none" stroke="#b5651d" stroke-width="1.2"/><circle cx="89.35" cy="388.00" r="2.5" fill="none" stroke="#b5651d" stroke-width="1.2"/><circle cx="96.16" cy="387.00" r="2.5" fill="none" stroke="#b5651d" stroke-width="1.2"/><circle cx="102.97" cy="396.50" r="2.5" fill="none" stroke="#b5651d" stroke-width="1.2"/><circle cx="109.78" cy="389.10" r="2.5" fill="none" stroke="#b5651d" stroke-width="1.2"/><circle cx="116.59" cy="399.90" r="2.5" fill="none" stroke="#b5651d" stroke-width="1.2"/><circle cx="123.40" cy="383.80" r="2.5" fill="none" stroke="#b5651d" stroke-width="1.2"/><circle cx="130.21" cy="394.20" r="2.5" fill="none" stroke="#b5651d" stroke-width="1.2"/><circle cx="137.02" cy="394.00" r="2.5" fill="none" stroke="#b5651d" stroke-width="1.2"/><circle cx="143.83" cy="396.00" r="2.5" fill="none" stroke="#b5651d" stroke-width="1.2"/><circle cx="150.64" cy="389.70" r="2.5" fill="none" stroke="#b5651d" stroke-width="1.2"/><circle cx="157.45" cy="403.70" r="2.5" fill="none" stroke="#b5651d" stroke-width="1.2"/><circle cx="164.26" cy="403.40" r="2.5" fill="none" stroke="#b5651d" stroke-width="1.2"/><circle cx="171.07" cy="396.00" r="2.5" fill="none" stroke="#b5651d" stroke-width="1.2"/><circle cx="177.88" cy="405.90" r="2.5" fill="none" stroke="#b5651d" stroke-width="1.2"/><circle cx="184.69" cy="395.80" r="2.5" fill="none" stroke="#b5651d" stroke-width="1.2"/><circle cx="191.50" cy="404.60" r="2.5" fill="none" stroke="#b5651d" stroke-width="1.2"/><circle cx="198.31" cy="394.50" r="2.5" fill="none" stroke="#b5651d" stroke-width="1.2"/><circle cx="205.12" cy="405.50" r="2.5" fill="none" stroke="#b5651d" stroke-width="1.2"/><circle cx="211.93" cy="389.80" r="2.5" fill="none" stroke="#b5651d" stroke-width="1.2"/><circle cx="218.74" cy="396.90" r="2.5" fill="none" stroke="#b5651d" stroke-width="1.2"/><circle cx="225.55" cy="404.70" r="2.5" fill="none" stroke="#b5651d" stroke-width="1.2"/><circle cx="232.36" cy="390.60" r="2.5" fill="none" stroke="#b5651d" stroke-width="1.2"/><circle cx="239.17" cy="400.00" r="2.5" fill="none" stroke="#b5651d" stroke-width="1.2"/><circle cx="249.38" cy="394.70" r="2.5" fill="none" stroke="#b5651d" stroke-width="1.2"/><circle cx="263.00" cy="399.70" r="2.5" fill="none" stroke="#b5651d" stroke-width="1.2"/><circle cx="276.62" cy="397.80" r="2.5" fill="none" stroke="#b5651d" stroke-width="1.2"/><circle cx="290.25" cy="399.70" r="2.5" fill="none" stroke="#b5651d" stroke-width="1.2"/><circle cx="303.87" cy="390.20" r="2.5" fill="none" stroke="#b5651d" stroke-width="1.2"/><circle cx="320.89" cy="398.40" r="2.5" fill="none" stroke="#b5651d" stroke-width="1.2"/><circle cx="348.13" cy="390.00" r="2.5" fill="none" stroke="#b5651d" stroke-width="1.2"/></g><path d="M55.30,367.40 L62.11,393.60 L68.92,405.60 L75.73,378.10 L82.54,373.20 L89.35,370.00 L96.16,360.20 L102.97,372.50 L109.78,364.90 L116.59,371.10 L123.40,362.10 L130.21,375.00 L137.02,366.40 L143.83,374.50 L150.64,369.70 L157.45,387.00 L164.26,386.00 L171.07,377.20 L177.88,393.00 L184.69,382.00 L191.50,391.40 L198.31,383.80 L205.12,401.60 L211.93,389.80 L218.74,404.70 L225.55,414.00 L232.36,403.90 L239.17,418.00 L249.38,426.30 L263.00,436.10 L276.62,447.40 L290.25,458.10 L303.87,476.40 L320.89,497.70 L348.13,524.26" fill="none" stroke="#4ca52a" stroke-width="1.1" stroke-dasharray="2.6 1.9"/><path d="M55.30,353.90V380.90M54.10,353.90h2.4M54.10,380.90h2.4M62.11,383.60V403.60M60.91,383.60h2.4M60.91,403.60h2.4" stroke="#4ca52a" stroke-width="1" stroke-dasharray="2.6 1.9"/><path d="M68.92,400.10V411.10M67.62,400.10h2.6M67.62,411.10h2.6M75.73,373.10V383.10M74.43,373.10h2.6M74.43,383.10h2.6M82.54,368.70V377.70M81.24,368.70h2.6M81.24,377.70h2.6M89.35,366.00V374.00M88.05,366.00h2.6M88.05,374.00h2.6M96.16,356.70V363.70M94.86,356.70h2.6M94.86,363.70h2.6M102.97,369.50V375.50M101.67,369.50h2.6M101.67,375.50h2.6M109.78,361.90V367.90M108.48,361.90h2.6M108.48,367.90h2.6M116.59,368.10V374.10M115.29,368.10h2.6M115.29,374.10h2.6M123.40,359.10V365.10M122.10,359.10h2.6M122.10,365.10h2.6" stroke="#4ca52a" stroke-width="1"/><g><rect x="52.60" y="364.70" width="5.4" height="5.4" fill="none" stroke="#4ca52a" stroke-width="1.2"/><rect x="59.41" y="390.90" width="5.4" height="5.4" fill="none" stroke="#4ca52a" stroke-width="1.2"/><rect x="66.22" y="402.90" width="5.4" height="5.4" fill="none" stroke="#4ca52a" stroke-width="1.2"/><rect x="73.03" y="375.40" width="5.4" height="5.4" fill="none" stroke="#4ca52a" stroke-width="1.2"/><rect x="79.84" y="370.50" width="5.4" height="5.4" fill="none" stroke="#4ca52a" stroke-width="1.2"/><rect x="86.65" y="367.30" width="5.4" height="5.4" fill="none" stroke="#4ca52a" stroke-width="1.2"/><rect x="93.46" y="357.50" width="5.4" height="5.4" fill="none" stroke="#4ca52a" stroke-width="1.2"/><rect x="100.27" y="369.80" width="5.4" height="5.4" fill="none" stroke="#4ca52a" stroke-width="1.2"/><rect x="107.08" y="362.20" width="5.4" height="5.4" fill="none" stroke="#4ca52a" stroke-width="1.2"/><rect x="113.89" y="368.40" width="5.4" height="5.4" fill="none" stroke="#4ca52a" stroke-width="1.2"/><rect x="120.70" y="359.40" width="5.4" height="5.4" fill="none" stroke="#4ca52a" stroke-width="1.2"/><rect x="127.51" y="372.30" width="5.4" height="5.4" fill="none" stroke="#4ca52a" stroke-width="1.2"/><rect x="134.32" y="363.70" width="5.4" height="5.4" fill="none" stroke="#4ca52a" stroke-width="1.2"/><rect x="141.13" y="371.80" width="5.4" height="5.4" fill="none" stroke="#4ca52a" stroke-width="1.2"/><rect x="147.94" y="367.00" width="5.4" height="5.4" fill="none" stroke="#4ca52a" stroke-width="1.2"/><rect x="154.75" y="384.30" width="5.4" height="5.4" fill="none" stroke="#4ca52a" stroke-width="1.2"/><rect x="161.56" y="383.30" width="5.4" height="5.4" fill="none" stroke="#4ca52a" stroke-width="1.2"/><rect x="168.37" y="374.50" width="5.4" height="5.4" fill="none" stroke="#4ca52a" stroke-width="1.2"/><rect x="175.18" y="390.30" width="5.4" height="5.4" fill="none" stroke="#4ca52a" stroke-width="1.2"/><rect x="181.99" y="379.30" width="5.4" height="5.4" fill="none" stroke="#4ca52a" stroke-width="1.2"/><rect x="188.80" y="388.70" width="5.4" height="5.4" fill="none" stroke="#4ca52a" stroke-width="1.2"/><rect x="195.61" y="381.10" width="5.4" height="5.4" fill="none" stroke="#4ca52a" stroke-width="1.2"/><rect x="202.42" y="398.90" width="5.4" height="5.4" fill="none" stroke="#4ca52a" stroke-width="1.2"/><rect x="209.23" y="387.10" width="5.4" height="5.4" fill="none" stroke="#4ca52a" stroke-width="1.2"/><rect x="216.04" y="402.00" width="5.4" height="5.4" fill="none" stroke="#4ca52a" stroke-width="1.2"/><rect x="222.85" y="411.30" width="5.4" height="5.4" fill="none" stroke="#4ca52a" stroke-width="1.2"/><rect x="229.66" y="401.20" width="5.4" height="5.4" fill="none" stroke="#4ca52a" stroke-width="1.2"/><rect x="236.47" y="415.30" width="5.4" height="5.4" fill="none" stroke="#4ca52a" stroke-width="1.2"/><rect x="246.69" y="423.60" width="5.4" height="5.4" fill="none" stroke="#4ca52a" stroke-width="1.2"/><rect x="260.31" y="433.40" width="5.4" height="5.4" fill="none" stroke="#4ca52a" stroke-width="1.2"/><rect x="273.93" y="444.70" width="5.4" height="5.4" fill="none" stroke="#4ca52a" stroke-width="1.2"/><rect x="287.55" y="455.40" width="5.4" height="5.4" fill="none" stroke="#4ca52a" stroke-width="1.2"/><rect x="301.17" y="473.70" width="5.4" height="5.4" fill="none" stroke="#4ca52a" stroke-width="1.2"/><rect x="318.19" y="495.00" width="5.4" height="5.4" fill="none" stroke="#4ca52a" stroke-width="1.2"/><rect x="345.43" y="521.56" width="5.4" height="5.4" fill="none" stroke="#4ca52a" stroke-width="1.2"/></g><path d="M55.30,404.10 L62.11,415.50 L68.92,412.20 L75.73,398.00 L82.54,403.00 L89.35,385.00 L96.16,387.60 L102.97,388.00 L109.78,383.40 L116.59,393.60 L123.40,384.50 L130.21,393.60 L137.02,389.10 L143.83,394.70 L150.64,392.30 L157.45,405.40 L164.26,405.00 L171.07,391.50 L177.88,399.40 L184.69,392.50 L191.50,398.60 L198.31,392.20 L205.12,401.30 L211.93,390.30 L218.74,403.10 L225.55,403.10 L232.36,387.50 L239.17,402.30 L249.38,399.30 L263.00,399.70 L276.62,402.80 L290.25,401.80 L303.87,407.50 L320.89,413.70 L348.13,415.80" fill="none" stroke="#0000f0" stroke-width="1.2"/><path d="M55.30,390.60V417.60M54.10,390.60h2.4M54.10,417.60h2.4M62.11,405.50V425.50M60.91,405.50h2.4M60.91,425.50h2.4" stroke="#0000f0" stroke-width="1"/><path d="M68.92,406.70V417.70M67.62,406.70h2.6M67.62,417.70h2.6M75.73,393.00V403.00M74.43,393.00h2.6M74.43,403.00h2.6M82.54,398.50V407.50M81.24,398.50h2.6M81.24,407.50h2.6M89.35,381.00V389.00M88.05,381.00h2.6M88.05,389.00h2.6M96.16,384.10V391.10M94.86,384.10h2.6M94.86,391.10h2.6M102.97,385.00V391.00M101.67,385.00h2.6M101.67,391.00h2.6M109.78,380.40V386.40M108.48,380.40h2.6M108.48,386.40h2.6M116.59,390.60V396.60M115.29,390.60h2.6M115.29,396.60h2.6M123.40,381.50V387.50M122.10,381.50h2.6M122.10,387.50h2.6M303.87,404.00V411.00M302.56,404.00h2.6M302.56,411.00h2.6M320.89,410.20V417.20M319.59,410.20h2.6M319.59,417.20h2.6M348.13,412.30V419.30M346.83,412.30h2.6M346.83,419.30h2.6" stroke="#0000f0" stroke-width="1"/><g><path d="M52.40,406.70L55.30,401.10L58.20,406.70Z" fill="#0000f0"/><path d="M59.21,418.10L62.11,412.50L65.01,418.10Z" fill="#0000f0"/><path d="M66.02,414.80L68.92,409.20L71.82,414.80Z" fill="#0000f0"/><path d="M72.83,400.60L75.73,395.00L78.63,400.60Z" fill="#0000f0"/><path d="M79.64,405.60L82.54,400.00L85.44,405.60Z" fill="#0000f0"/><path d="M86.45,387.60L89.35,382.00L92.25,387.60Z" fill="#0000f0"/><path d="M93.26,390.20L96.16,384.60L99.06,390.20Z" fill="#0000f0"/><path d="M100.07,390.60L102.97,385.00L105.87,390.60Z" fill="#0000f0"/><path d="M106.88,386.00L109.78,380.40L112.68,386.00Z" fill="#0000f0"/><path d="M113.69,396.20L116.59,390.60L119.49,396.20Z" fill="#0000f0"/><path d="M120.50,387.10L123.40,381.50L126.30,387.10Z" fill="#0000f0"/><path d="M127.31,396.20L130.21,390.60L133.11,396.20Z" fill="#0000f0"/><path d="M134.12,391.70L137.02,386.10L139.92,391.70Z" fill="#0000f0"/><path d="M140.93,397.30L143.83,391.70L146.73,397.30Z" fill="#0000f0"/><path d="M147.74,394.90L150.64,389.30L153.54,394.90Z" fill="#0000f0"/><path d="M154.55,408.00L157.45,402.40L160.35,408.00Z" fill="#0000f0"/><path d="M161.36,407.60L164.26,402.00L167.16,407.60Z" fill="#0000f0"/><path d="M168.17,394.10L171.07,388.50L173.97,394.10Z" fill="#0000f0"/><path d="M174.98,402.00L177.88,396.40L180.78,402.00Z" fill="#0000f0"/><path d="M181.79,395.10L184.69,389.50L187.59,395.10Z" fill="#0000f0"/><path d="M188.60,401.20L191.50,395.60L194.40,401.20Z" fill="#0000f0"/><path d="M195.41,394.80L198.31,389.20L201.21,394.80Z" fill="#0000f0"/><path d="M202.22,403.90L205.12,398.30L208.02,403.90Z" fill="#0000f0"/><path d="M209.03,392.90L211.93,387.30L214.83,392.90Z" fill="#0000f0"/><path d="M215.84,405.70L218.74,400.10L221.64,405.70Z" fill="#0000f0"/><path d="M222.65,405.70L225.55,400.10L228.45,405.70Z" fill="#0000f0"/><path d="M229.46,390.10L232.36,384.50L235.26,390.10Z" fill="#0000f0"/><path d="M236.27,404.90L239.17,399.30L242.07,404.90Z" fill="#0000f0"/><path d="M246.48,401.90L249.38,396.30L252.28,401.90Z" fill="#0000f0"/><path d="M260.11,402.30L263.00,396.70L265.90,402.30Z" fill="#0000f0"/><path d="M273.73,405.40L276.62,399.80L279.52,405.40Z" fill="#0000f0"/><path d="M287.35,404.40L290.25,398.80L293.14,404.40Z" fill="#0000f0"/><path d="M300.97,410.10L303.87,404.50L306.76,410.10Z" fill="#0000f0"/><path d="M317.99,416.30L320.89,410.70L323.79,416.30Z" fill="#0000f0"/><path d="M345.23,418.40L348.13,412.80L351.03,418.40Z" fill="#0000f0"/></g><path d="M55.30,362.30 L62.11,375.00 L68.92,399.00 L75.73,375.00 L82.54,387.30 L89.35,378.50 L96.16,373.00 L102.97,378.40 L109.78,377.10 L116.59,386.00 L123.40,371.40 L130.21,386.80 L137.02,378.90 L143.83,382.90 L150.64,377.50 L157.45,393.50 L164.26,391.20 L171.07,382.60 L177.88,394.00 L184.69,388.10 L191.50,395.70 L198.31,386.00 L205.12,402.30 L211.93,390.30 L218.74,399.70 L225.55,403.90 L232.36,390.60 L239.17,407.80 L249.38,410.20 L263.00,418.30 L276.62,425.30 L290.25,425.00 L303.87,435.00 L320.89,450.80 L348.13,458.80" fill="none" stroke="#1e9ec6" stroke-width="1.1" stroke-dasharray="4 1.6 1.2 1.6"/><path d="M55.30,348.80V375.80M54.10,348.80h2.4M54.10,375.80h2.4M62.11,365.00V385.00M60.91,365.00h2.4M60.91,385.00h2.4" stroke="#1e9ec6" stroke-width="1" stroke-dasharray="4 1.6 1.2 1.6"/><path d="M68.92,393.50V404.50M67.62,393.50h2.6M67.62,404.50h2.6M75.73,370.00V380.00M74.43,370.00h2.6M74.43,380.00h2.6M82.54,382.80V391.80M81.24,382.80h2.6M81.24,391.80h2.6M89.35,374.50V382.50M88.05,374.50h2.6M88.05,382.50h2.6M96.16,369.50V376.50M94.86,369.50h2.6M94.86,376.50h2.6M102.97,375.40V381.40M101.67,375.40h2.6M101.67,381.40h2.6M109.78,374.10V380.10M108.48,374.10h2.6M108.48,380.10h2.6M116.59,383.00V389.00M115.29,383.00h2.6M115.29,389.00h2.6M123.40,368.40V374.40M122.10,368.40h2.6M122.10,374.40h2.6M290.25,420.50V429.50M288.94,420.50h2.6M288.94,429.50h2.6M303.87,430.50V439.50M302.56,430.50h2.6M302.56,439.50h2.6M320.89,446.30V455.30M319.59,446.30h2.6M319.59,455.30h2.6M348.13,454.30V463.30M346.83,454.30h2.6M346.83,463.30h2.6" stroke="#1e9ec6" stroke-width="1"/><g><path d="M52.30,359.50L55.30,365.30L58.30,359.50Z" fill="#1e9ec6"/><path d="M59.11,372.20L62.11,378.00L65.11,372.20Z" fill="#1e9ec6"/><path d="M65.92,396.20L68.92,402.00L71.92,396.20Z" fill="#1e9ec6"/><path d="M72.73,372.20L75.73,378.00L78.73,372.20Z" fill="#1e9ec6"/><path d="M79.54,384.50L82.54,390.30L85.54,384.50Z" fill="#1e9ec6"/><path d="M86.35,375.70L89.35,381.50L92.35,375.70Z" fill="#1e9ec6"/><path d="M93.16,370.20L96.16,376.00L99.16,370.20Z" fill="#1e9ec6"/><path d="M99.97,375.60L102.97,381.40L105.97,375.60Z" fill="#1e9ec6"/><path d="M106.78,374.30L109.78,380.10L112.78,374.30Z" fill="#1e9ec6"/><path d="M113.59,383.20L116.59,389.00L119.59,383.20Z" fill="#1e9ec6"/><path d="M120.40,368.60L123.40,374.40L126.40,368.60Z" fill="#1e9ec6"/><path d="M127.21,384.00L130.21,389.80L133.21,384.00Z" fill="#1e9ec6"/><path d="M134.02,376.10L137.02,381.90L140.02,376.10Z" fill="#1e9ec6"/><path d="M140.83,380.10L143.83,385.90L146.83,380.10Z" fill="#1e9ec6"/><path d="M147.64,374.70L150.64,380.50L153.64,374.70Z" fill="#1e9ec6"/><path d="M154.45,390.70L157.45,396.50L160.45,390.70Z" fill="#1e9ec6"/><path d="M161.26,388.40L164.26,394.20L167.26,388.40Z" fill="#1e9ec6"/><path d="M168.07,379.80L171.07,385.60L174.07,379.80Z" fill="#1e9ec6"/><path d="M174.88,391.20L177.88,397.00L180.88,391.20Z" fill="#1e9ec6"/><path d="M181.69,385.30L184.69,391.10L187.69,385.30Z" fill="#1e9ec6"/><path d="M188.50,392.90L191.50,398.70L194.50,392.90Z" fill="#1e9ec6"/><path d="M195.31,383.20L198.31,389.00L201.31,383.20Z" fill="#1e9ec6"/><path d="M202.12,399.50L205.12,405.30L208.12,399.50Z" fill="#1e9ec6"/><path d="M208.93,387.50L211.93,393.30L214.93,387.50Z" fill="#1e9ec6"/><path d="M215.74,396.90L218.74,402.70L221.74,396.90Z" fill="#1e9ec6"/><path d="M222.55,401.10L225.55,406.90L228.55,401.10Z" fill="#1e9ec6"/><path d="M229.36,387.80L232.36,393.60L235.36,387.80Z" fill="#1e9ec6"/><path d="M236.17,405.00L239.17,410.80L242.17,405.00Z" fill="#1e9ec6"/><path d="M246.38,407.40L249.38,413.20L252.38,407.40Z" fill="#1e9ec6"/><path d="M260.00,415.50L263.00,421.30L266.00,415.50Z" fill="#1e9ec6"/><path d="M273.62,422.50L276.62,428.30L279.62,422.50Z" fill="#1e9ec6"/><path d="M287.25,422.20L290.25,428.00L293.25,422.20Z" fill="#1e9ec6"/><path d="M300.87,432.20L303.87,438.00L306.87,432.20Z" fill="#1e9ec6"/><path d="M317.89,448.00L320.89,453.80L323.89,448.00Z" fill="#1e9ec6"/><path d="M345.13,456.00L348.13,461.80L351.13,456.00Z" fill="#1e9ec6"/></g><path d="M55.30,194.79 L62.11,255.79 L68.92,281.52 L75.73,259.52 L82.54,266.16 L89.35,266.99 L96.16,265.33 L102.97,284.42 L109.78,282.76 L116.59,301.43 L123.40,302.26 L130.21,319.90 L137.02,326.60 L143.83,343.20 L150.64,350.90 L157.45,376.20 L164.26,393.20 L171.07,395.10 L177.88,422.30 L184.69,427.80 L191.50,454.00 L198.31,464.30 L205.12,488.99 L211.93,502.27 L218.74,521.77 L225.55,544.59 L232.36,566.17 L239.17,588.99 L249.38,626.34 L263.00,674.88 L276.62,713.06 L290.25,764.10 L303.87,780.70 L320.89,835.88 L348.13,847.09" fill="none" stroke="#ff0000" stroke-width="1.0" stroke-dasharray="1.2 0.5"/><g><path d="M53.00,194.79L55.30,191.59L57.60,194.79L55.30,197.99Z" fill="#ff0000"/><path d="M59.81,255.79L62.11,252.59L64.41,255.79L62.11,258.99Z" fill="#ff0000"/><path d="M66.62,281.52L68.92,278.32L71.22,281.52L68.92,284.72Z" fill="#ff0000"/><path d="M73.43,259.52L75.73,256.32L78.03,259.52L75.73,262.72Z" fill="#ff0000"/><path d="M80.24,266.16L82.54,262.96L84.84,266.16L82.54,269.36Z" fill="#ff0000"/><path d="M87.05,266.99L89.35,263.79L91.65,266.99L89.35,270.19Z" fill="#ff0000"/><path d="M93.86,265.33L96.16,262.13L98.46,265.33L96.16,268.53Z" fill="#ff0000"/><path d="M100.67,284.42L102.97,281.22L105.27,284.42L102.97,287.62Z" fill="#ff0000"/><path d="M107.48,282.76L109.78,279.56L112.08,282.76L109.78,285.96Z" fill="#ff0000"/><path d="M114.29,301.43L116.59,298.23L118.89,301.43L116.59,304.63Z" fill="#ff0000"/><path d="M121.10,302.26L123.40,299.06L125.70,302.26L123.40,305.46Z" fill="#ff0000"/><path d="M127.91,319.90L130.21,316.70L132.51,319.90L130.21,323.10Z" fill="#ff0000"/><path d="M134.72,326.60L137.02,323.40L139.32,326.60L137.02,329.80Z" fill="#ff0000"/><path d="M141.53,343.20L143.83,340.00L146.13,343.20L143.83,346.40Z" fill="#ff0000"/><path d="M148.34,350.90L150.64,347.70L152.94,350.90L150.64,354.10Z" fill="#ff0000"/><path d="M155.15,376.20L157.45,373.00L159.75,376.20L157.45,379.40Z" fill="#ff0000"/><path d="M161.96,393.20L164.26,390.00L166.56,393.20L164.26,396.40Z" fill="#ff0000"/><path d="M168.77,395.10L171.07,391.90L173.37,395.10L171.07,398.30Z" fill="#ff0000"/><path d="M175.58,422.30L177.88,419.10L180.18,422.30L177.88,425.50Z" fill="#ff0000"/><path d="M182.39,427.80L184.69,424.60L186.99,427.80L184.69,431.00Z" fill="#ff0000"/><path d="M189.20,454.00L191.50,450.80L193.80,454.00L191.50,457.20Z" fill="#ff0000"/><path d="M196.01,464.30L198.31,461.10L200.61,464.30L198.31,467.50Z" fill="#ff0000"/><path d="M202.82,488.99L205.12,485.79L207.42,488.99L205.12,492.19Z" fill="#ff0000"/><path d="M209.63,502.27L211.93,499.07L214.23,502.27L211.93,505.47Z" fill="#ff0000"/><path d="M216.44,521.77L218.74,518.57L221.04,521.77L218.74,524.97Z" fill="#ff0000"/><path d="M223.25,544.59L225.55,541.39L227.85,544.59L225.55,547.79Z" fill="#ff0000"/><path d="M230.06,566.17L232.36,562.97L234.66,566.17L232.36,569.37Z" fill="#ff0000"/><path d="M236.87,588.99L239.17,585.79L241.47,588.99L239.17,592.19Z" fill="#ff0000"/><path d="M247.08,626.34L249.38,623.14L251.69,626.34L249.38,629.54Z" fill="#ff0000"/><path d="M260.70,674.88L263.00,671.68L265.31,674.88L263.00,678.08Z" fill="#ff0000"/><path d="M274.32,713.06L276.62,709.86L278.93,713.06L276.62,716.26Z" fill="#ff0000"/><path d="M287.94,764.10L290.25,760.90L292.55,764.10L290.25,767.30Z" fill="#ff0000"/><path d="M301.56,780.70L303.87,777.50L306.17,780.70L303.87,783.90Z" fill="#ff0000"/><path d="M318.59,835.88L320.89,832.68L323.19,835.88L320.89,839.08Z" fill="#ff0000"/><path d="M345.83,847.09L348.13,843.89L350.43,847.09L348.13,850.29Z" fill="#ff0000"/></g></g><rect x="45.5" y="17.5" width="326.0" height="300.0" fill="none" stroke="#000" stroke-width="1.1"/><rect x="45.5" y="317.5" width="326.0" height="160.0" fill="none" stroke="#000" stroke-width="1.1"/><rect x="74.00" y="208.20" width="5.6" height="5.6" fill="#000"/><text x="94" y="214.30" font-size="9.4">ATLAS</text><path d="M64,224.05H88.5" stroke="#b5651d" stroke-width="1.1" stroke-dasharray="2.6 1.9"/><circle cx="76.50" cy="224.05" r="2.5" fill="none" stroke="#b5651d" stroke-width="1.2"/><text x="94" y="227.35" font-size="9.4">Herwig++ 2.7.1 default</text><path d="M64,237.10H88.5" stroke="#4ca52a" stroke-width="1.1" stroke-dasharray="2.6 1.9"/><rect x="73.80" y="234.40" width="5.4" height="5.4" fill="none" stroke="#4ca52a" stroke-width="1.2"/><text x="94" y="240.40" font-size="9.4">Herwig 7.2.1 default</text><path d="M64,250.15H88.5" stroke="#0000f0" stroke-width="1.1"/><path d="M73.60,252.75L76.50,247.15L79.40,252.75Z" fill="#0000f0"/><text x="94" y="253.45" font-size="9.4">Pythia 8.315 default</text><path d="M64,263.20H88.5" stroke="#1e9ec6" stroke-width="1.1" stroke-dasharray="4 1.6 1.2 1.6"/><path d="M73.50,260.40L76.50,266.20L79.50,260.40Z" fill="#1e9ec6"/><text x="94" y="266.50" font-size="9.4">Pythia 8.315 vincia-default</text><path d="M64,276.25H88.5" stroke="#ff0000" stroke-width="1.1" stroke-dasharray="0.9 0.6"/><path d="M74.20,276.25L76.50,273.05L78.80,276.25L76.50,279.45Z" fill="#ff0000"/><text x="94" y="279.55" font-size="9.4">Sherpa 2.2.9 default</text><text x="51" y="13.7" font-size="12">13000 GeV pp</text><text x="366" y="13.7" font-size="12" text-anchor="end">Z+Jet</text><text x="96" y="41.7" font-size="12">Away region, 60 &lt;</text><text x="196.4" y="41.7" font-size="12">p</text><text x="201.3" y="36.7" font-size="8.5">Z</text><text x="201.3" y="48.6" font-size="8.5">T</text><text x="209.8" y="41.7" font-size="12">&lt; 80 [GeV], inclusive</text><text x="40.5" y="43.5" font-size="11" text-anchor="end">10</text><text x="40.5" y="91.9" font-size="11" text-anchor="end">1</text><text x="39.5" y="142.1" font-size="11" text-anchor="end">10<tspan font-size="7.5" dy="-6">−1</tspan></text><text x="39.5" y="190.6" font-size="11" text-anchor="end">10<tspan font-size="7.5" dy="-6">−2</tspan></text><text x="39.5" y="239.0" font-size="11" text-anchor="end">10<tspan font-size="7.5" dy="-6">−3</tspan></text><text x="39.5" y="287.4" font-size="11" text-anchor="end">10<tspan font-size="7.5" dy="-6">−4</tspan></text><text x="38" y="341.2" font-size="11" text-anchor="end">2</text><text x="374" y="341.2" font-size="11">2</text><text x="38" y="401.7" font-size="11" text-anchor="end">1</text><text x="374" y="401.7" font-size="11">1</text><text x="38" y="462.2" font-size="11" text-anchor="end">0.5</text><text x="374" y="462.2" font-size="11">0.5</text><text x="55.30" y="489" font-size="12" text-anchor="middle">0</text><text x="126.60" y="489" font-size="12" text-anchor="middle">1</text><text x="197.90" y="489" font-size="12" text-anchor="middle">2</text><text x="269.20" y="489" font-size="12" text-anchor="middle">3</text><text x="340.50" y="489" font-size="12" text-anchor="middle">4</text><text x="319" y="502.9" font-size="12">N<tspan font-size="8" dy="3">ch</tspan><tspan dy="-3">/dη dφ</tspan></text><text transform="translate(15.2,133.5) rotate(-90)" font-size="12">1/N<tspan font-size="7" dy="3">ev</tspan><tspan dy="-3"> dN</tspan><tspan font-size="7" dy="3">ev</tspan><tspan dy="-3">/dN</tspan><tspan font-size="7" dy="3">ch</tspan><tspan dy="-3">/dη dφ</tspan></text><text transform="translate(19,428) rotate(-90)" font-size="9.3">Ratio to ATLAS</text><text transform="translate(380.2,127.2) rotate(-90)" font-size="9.8" fill="#808080" textLength="109.3" lengthAdjust="spacing">Rivet 4.1.0, ≥ 2.5M events</text><text transform="translate(380.5,313.3) rotate(-90)" font-size="9.6" fill="#808080" textLength="146.5" lengthAdjust="spacing">mcplots.cern.ch [arXiv:2401.10621]</text><text x="163" y="301.6" font-size="8" fill="#999">(ATLAS_2019_I1736531)</text></svg></body></html>
